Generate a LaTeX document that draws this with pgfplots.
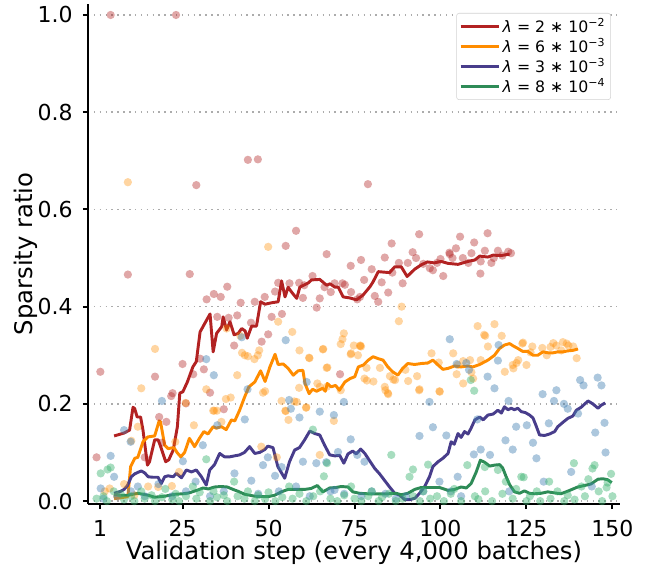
\documentclass[border=0pt]{standalone}
\usepackage{fontspec}
\setmainfont{DejaVu Sans}
\usepackage{pgfplots}
\pgfplotsset{compat=1.18}

\definecolor{cRed}{RGB}{178,34,34}
\definecolor{cOrange}{RGB}{255,140,0}
\definecolor{cPurple}{RGB}{72,61,139}
\definecolor{cGreen}{RGB}{46,139,87}
\definecolor{dBlue}{RGB}{70,130,180}
\definecolor{dGreen}{RGB}{60,179,113}

\newcommand{\lab}[2]{\textit{λ} = #1 ∗ 10\textsuperscript{−#2}}

\begin{document}
\begin{tikzpicture}
\begin{axis}[
  scale only axis,
  width=399pt, height=375pt,
  xmin=-2.49, xmax=152.2,
  ymin=-0.006, ymax=1.0226,
  axis x line*=bottom, axis y line*=left,
  axis line style={line width=1.9pt},
  xtick={1,25,50,75,100,125,150},
  ytick={0,0.2,0.4,0.6,0.8,1.0},
  tick align=outside,
  major tick length=3.75pt,
  tick style={black, line width=1.5pt},
  ymajorgrids,
  major grid style={gray!65, line width=1.1pt, dash pattern=on 1.1pt off 3.3pt},
  /pgf/number format/assume math mode=true,
  yticklabel style={/pgf/number format/fixed, /pgf/number format/fixed zerofill,
    /pgf/number format/precision=1},
  scaled y ticks=false,
  tick label style={font=\fontsize{16.5}{20}\selectfont},
  xticklabel style={anchor=base, inner sep=0pt, yshift=-20.25pt},
  yticklabel style={anchor=east, inner sep=0pt, xshift=-7.5pt},
  label style={font=\fontsize{18.2}{22}\selectfont},
  xlabel={Validation step (every 4,000 batches)},
  ylabel={Sparsity ratio},
  xlabel style={at={(axis description cs:0.5,-0.11)}, anchor=base},
  ylabel style={at={(axis description cs:-0.1034,0.5)}, anchor=base},
  legend style={at={(0.983,0.982)}, anchor=north east, draw=gray!35,
    rounded corners=2pt, font=\fontsize{11.8}{14}\selectfont,
    inner sep=2pt, row sep=-1pt},
  legend cell align=left,
  legend image code/.code={\draw[#1, line width=2.2pt] (0cm,0cm) -- (1.0cm,0cm);},
  every axis plot/.append style={line join=round},
  dot/.style 2 args={forget plot, only marks, mark=*, mark size=3.1pt,
    mark options={fill=#1, draw opacity=0, fill opacity=#2}},
]
% ---- raw values (dots) ----
\addplot[dot={cRed}{0.4}] coordinates {
(0,0.09)(1.1,0.266)(4.1,1.0)(23.1,1.0)(9.1,0.466)(27.1,0.467)(29,0.65)(44,0.702)(46.9,0.703)
(78.9,0.652)(58,0.556)(55,0.525)(66.9,0.508)(73.9,0.484)(76.9,0.496)(93.8,0.549)(105.7,0.544)
(113.7,0.551)(85.8,0.53)(109.8,0.532)(91.9,0.512)(83.8,0.501)(87.9,0.49)(80,0.477)(102.7,0.508)
(112.9,0.515)(116.7,0.515)(119.7,0.513)(100.8,0.463)(111.6,0.468)(77.8,0.455)(82.9,0.45)
(89,0.448)(84.8,0.429)(80.9,0.422)(81.9,0.41)(76.6,0.42)(96.9,0.479)(114.8,0.49)(111.7,0.493)
(108.1,0.49)(97.8,0.475)(92.9,0.5)(32,0.415)(34.1,0.426)(36.1,0.42)(38,0.441)(41.9,0.408)
(46,0.41)(48.9,0.42)(51.9,0.431)(52.8,0.449)(58.9,0.449)(62.8,0.463)(64.9,0.417)(66.3,0.44)
(64,0.398)(68.1,0.43)(69.2,0.448)(71.5,0.448)(72.2,0.445)(75.8,0.415)(60,0.418)(60.4,0.444)
(56.1,0.448)(35.1,0.379)(38.4,0.377)(40.9,0.382)(44.9,0.367)(50.9,0.379)(53.9,0.385)
(49.9,0.343)(48,0.328)(40,0.32)(70.8,0.261)(25,0.282)(28.1,0.261)(30.1,0.293)(31.2,0.271)
(33,0.223)(22.1,0.222)(21.7,0.216)(18.2,0.173)(17,0.256)(26,0.201)(37,0.189)(20.3,0.163)
(14,0.09)(19,0.12)(102.6,0.511)(103.5,0.5)(99,0.49)(95,0.488)(104.5,0.52)(106.5,0.5)
(118,0.505)(120.5,0.51)(115.5,0.5)(109,0.51)(100,0.498)(90.5,0.49)(86,0.47)(74,0.43)
};
\addplot[dot={cOrange}{0.37}] coordinates {
(9.1,0.656)(49.9,0.523)(17,0.313)(13,0.232)(10.1,0.124)(12,0.153)(3.8,0.026)(2.4,0.02)
(17.9,0.029)(21.9,0.031)(22.9,0.122)(25.9,0.202)(28.3,0.156)(31.9,0.23)(34.2,0.186)(35,0.186)
(36.3,0.163)(39,0.213)(37.6,0.21)(33.9,0.186)(40.9,0.259)(42.3,0.305)(43.1,0.3)(44,0.298)
(45.9,0.292)(46.9,0.3)(47.3,0.31)(48.4,0.223)(49,0.226)(47.9,0.112)(37.8,0.355)(41.8,0.34)
(52.8,0.369)(56.9,0.348)(61.8,0.295)(65.9,0.313)(66.9,0.274)(71.9,0.345)(71.5,0.333)
(74.8,0.32)(76.7,0.32)(73.9,0.302)(58.9,0.233)(64.9,0.235)(66.9,0.235)(71,0.228)(53.8,0.206)
(55,0.185)(58.2,0.204)(60.9,0.192)(59,0.31)(74,0.304)(71,0.323)(76.9,0.318)(65.8,0.312)
(61.9,0.294)(76,0.3)(67.1,0.275)(64.2,0.242)(77.9,0.252)(83.8,0.235)(84.7,0.222)(86.3,0.25)
(93.9,0.23)(99.7,0.226)(57.5,0.205)(61,0.193)(54.9,0.186)(55.8,0.167)(69,0.165)(64.9,0.095)
(52.4,0.09)(88.7,0.4)(87.9,0.37)(110.8,0.36)(115.7,0.364)(112.7,0.342)(117.8,0.34)(76.6,0.319)
(97.4,0.304)(123.8,0.324)(126.7,0.318)(132,0.317)(132.8,0.325)(136.7,0.324)(138.6,0.318)
(139.6,0.294)(135.1,0.31)(126.2,0.306)(125,0.28)(122.1,0.284)(121.2,0.273)(118.7,0.266)
(99.5,0.285)(103.7,0.304)(104.7,0.261)(99.8,0.225)(93.8,0.228)(90.6,0.247)(93.2,0.257)
(86.8,0.249)(84.8,0.22)(84,0.228)(80.5,0.246)(78.6,0.248)(78.5,0.274)(82.4,0.274)(85.3,0.257)
(89.8,0.27)(106.6,0.242)(109.5,0.252)(113,0.34)(113.8,0.318)(111.7,0.29)(108.6,0.29)
(106.6,0.288)(105,0.28)(109,0.265)(121,0.28)(122.6,0.29)(124,0.326)(129.6,0.315)(133.7,0.32)
(135.6,0.327)(137.2,0.32)(130.9,0.3)(6,0.01)(8,0.035)(15,0.03)(24,0.06)(11,0.012)
};
\addplot[dot={dBlue}{0.45}] coordinates {
(1.2,0.026)(4.1,0.093)(5.1,0.05)(8,0.146)(9.9,0.122)(12,0.03)(19,0.206)(25.1,0.082)(28.8,0.04)
(30.9,0.115)(31.9,0.292)(34.1,0.259)(35.1,0.156)(40.1,0.057)(42.2,0.337)(43.1,0.168)(43.9,0.23)
(45,0.042)(48.4,0.074)(51.9,0.052)(53.8,0.07)(49.8,0.09)(55,0.331)(56,0.208)(56.5,0.19)
(59,0.172)(60,0.081)(61.1,0.245)(63.9,0.078)(64.9,0.184)(66.8,0.08)(69,0.177)(70.2,0.101)
(71.9,0.204)(73.9,0.127)(75.8,0.095)(77.9,0.081)(93.9,0.134)(96.8,0.204)(97.8,0.152)
(101.7,0.135)(102.7,0.333)(104.7,0.282)(107.5,0.284)(108.3,0.27)(105,0.05)(109.7,0.096)
(110.7,0.168)(111.7,0.106)(113.7,0.256)(114.4,0.095)(115.7,0.232)(116.7,0.289)(116.9,0.321)
(118.9,0.125)(119.8,0.206)(121,0.106)(122,0.153)(125.1,0.156)(126.9,0.12)(127.9,0.088)
(129.7,0.22)(131.5,0.16)(133,0.206)(133.7,0.228)(135.9,0.2)(137,0.19)(140,0.18)(140.6,0.249)
(141.6,0.238)(145,0.141)(145.7,0.254)(146.8,0.238)(147.7,0.161)(148,0.1)(69.2,0.023)
(99.7,0.04)(2,0.005)(6,0.01)(10,0.02)(14,0.01)(18,0.035)(22,0.01)(26,0.02)(33,0.01)(37,0.02)
(47,0.015)(53,0.02)(58,0.03)(62,0.01)(68,0.02)(72,0.015)(77,0.01)(80,0.02)(84,0.015)(87,0.005)
(90,0.01)(95,0.02)(103,0.02)(106,0.01)(120,0.02)(130,0.04)(138,0.06)(144,0.03)
};
\addplot[dot={dGreen}{0.45}] coordinates {
(1.2,0.057)(4.1,0.069)(3.2,0.065)(31.9,0.086)(62.9,0.147)(85.7,0.095)(67,0.078)(66.1,0.051)
(91,0.05)(92,0.065)(96.4,0.075)(108.8,0.249)(109.8,0.227)(107.8,0.074)(112.9,0.07)(116.7,0.064)
(124.2,0.049)(123.5,0.05)(131.6,0.04)(138.8,0.078)(144.2,0.067)(144.8,0.074)(149.6,0.056)
(148.6,0.038)(148.3,0.028)
(0,0.005)(2,0.01)(3,0.0)(5,0.02)(7,0.015)(8,0.003)(10,0.01)(11,0.0)(13,0.02)(14,0.005)(16,0.012)
(17,0.0)(19,0.008)(20,0.025)(22,0.003)(23,0.015)(24,0.0)(26,0.01)(28,0.03)(29,0.005)(30,0.018)
(33,0.0)(34,0.02)(35,0.008)(37,0.012)(38,0.0)(40,0.04)(41,0.01)(43,0.005)(44,0.02)(46,0.0)
(47,0.012)(49,0.004)(50,0.018)(52,0.0)(54,0.008)(56,0.03)(57,0.005)(59,0.015)(61,0.0)(63,0.01)
(65,0.02)(68,0.005)(70,0.0)(72,0.012)(74,0.03)(75,0.005)(77,0.0)(79,0.01)(80,0.02)(82,0.0)
(83,0.008)(85,0.015)(87,0.0)(89,0.005)(92,0.01)(94,0.0)(95,0.02)(97,0.005)(99,0.01)(101,0.0)
(103,0.015)(104,0.025)(106,0.0)(110,0.01)(111,0.004)(113,0.02)(115,0.0)(118,0.015)(119,0.04)
(121,0.005)(122,0.025)(125,0.0)(126,0.01)(128,0.02)(129,0.0)(132,0.005)(134,0.02)(136,0.0)
(137,0.012)(139,0.003)(141,0.03)(142,0.01)(143,0.045)(146,0.02)(147,0.0)(150,0.01)
};
% ---- smoothed curves ----
\addplot[cRed, line width=2.2pt] coordinates {
(5.1,0.134)(8,0.140)(9.6,0.146)(10.6,0.193)(11.1,0.190)(11.8,0.173)(12.8,0.173)(13.5,0.146)
(14.8,0.074)(15.4,0.081)(16.9,0.126)(17.9,0.126)(18.5,0.115)(20.1,0.081)(21,0.085)(22.3,0.105)
(23.5,0.153)(24.2,0.222)(25.1,0.225)(26.4,0.245)(28,0.276)(29,0.287)(30.1,0.348)(31.5,0.366)
(33,0.385)(33.9,0.307)(34.9,0.345)(36.4,0.359)(36.8,0.379)(37.8,0.352)(38.8,0.369)(40,0.342)
(41.2,0.345)(42.2,0.355)(43.2,0.350)(43.8,0.335)(45.1,0.360)(46.5,0.360)(47.7,0.410)(49,0.405)
(50.9,0.408)(52.8,0.410)(53.8,0.453)(54.8,0.420)(55.7,0.440)(56.7,0.430)(58.2,0.417)(59.1,0.440)
(61.6,0.449)(62.5,0.455)(64.9,0.456)(66.9,0.444)(67.9,0.447)(69.3,0.440)(70.3,0.440)(71.7,0.420)
(73.6,0.418)(75.6,0.414)(77.5,0.424)(79.5,0.441)(80.4,0.451)(81.9,0.472)(85.2,0.470)(86.7,0.482)
(88.6,0.482)(90.3,0.462)(92.5,0.477)(94.4,0.486)(96.2,0.492)(98.2,0.490)(100.2,0.493)
(102.2,0.489)(105.1,0.487)(108,0.493)(110,0.496)(111.4,0.504)(113.8,0.502)(115.3,0.506)
(117.5,0.505)(120.1,0.508)
};
\addlegendentry{\lab{2}{2}}
\addplot[cOrange, line width=2.2pt] coordinates {
(5.1,0.005)(9.1,0.009)(9.9,0.071)(11.1,0.088)(12,0.090)(13.5,0.122)(14.9,0.132)(16.9,0.134)
(18.2,0.165)(18.6,0.163)(19.8,0.115)(20.8,0.108)(22.5,0.110)(23.4,0.100)(24.5,0.091)(25.6,0.100)
(27,0.129)(28.5,0.112)(29.9,0.129)(31.2,0.143)(32.4,0.138)(33.9,0.153)(34.8,0.150)(36.3,0.153)
(37.7,0.147)(39.2,0.167)(40.2,0.165)(41.6,0.187)(43.1,0.215)(44.3,0.235)(46,0.245)(47.7,0.268)
(49,0.246)(50.4,0.276)(51.9,0.302)(52.8,0.281)(54.3,0.282)(55.7,0.273)(57.2,0.259)(58.6,0.268)
(60,0.269)(60.6,0.242)(61.8,0.221)(62.8,0.230)(64,0.226)(65.7,0.232)(66.5,0.226)(67.1,0.242)
(68.2,0.235)(69.5,0.238)(70.6,0.228)(72.2,0.245)(73.7,0.252)(75.1,0.256)(76.1,0.276)(77.6,0.280)
(79,0.290)(80.4,0.297)(81.9,0.293)(83.3,0.290)(84.7,0.276)(86.1,0.266)(87.6,0.259)(89,0.273)
(90.5,0.283)(92.5,0.281)(94.4,0.283)(96.3,0.284)(97.8,0.290)(99.3,0.280)(100.7,0.271)
(102.2,0.273)(104.1,0.278)(106,0.276)(108,0.278)(109.4,0.276)(111.4,0.281)(113.8,0.290)
(115.7,0.300)(117.2,0.314)(118.6,0.321)(120.1,0.324)(121.2,0.319)(122.5,0.314)(123.9,0.308)
(125.4,0.308)(126.9,0.300)(128.3,0.300)(129.8,0.307)(131.3,0.305)(132.7,0.305)(134.1,0.307)
(135.6,0.307)(137,0.309)(138.5,0.310)(140,0.313)
};
\addlegendentry{\lab{6}{3}}
\addplot[cPurple, line width=2.2pt] coordinates {
(5.1,0.016)(7,0.020)(8,0.024)(9,0.032)(10.1,0.050)(11.1,0.056)(12,0.059)(13,0.062)(14,0.058)
(15,0.050)(16.4,0.049)(17.9,0.049)(18.8,0.036)(19.8,0.050)(20.8,0.052)(22.3,0.050)(23.2,0.057)
(24.7,0.048)(26.1,0.064)(27.6,0.060)(29,0.064)(30.5,0.050)(31.9,0.033)(32.9,0.064)(34.3,0.075)
(35.8,0.098)(37.2,0.091)(38.7,0.091)(40.1,0.093)(41.6,0.095)(43,0.100)(44.5,0.112)(46,0.098)
(47.4,0.100)(48.9,0.106)(49.8,0.113)(51.3,0.110)(52.7,0.071)(54.7,0.047)(56.1,0.081)(57.6,0.105)
(59,0.110)(60.5,0.126)(62,0.144)(63.4,0.139)(64.9,0.136)(66.3,0.115)(67.8,0.095)(69.3,0.093)
(70.7,0.094)(71.9,0.078)(73.1,0.097)(74.5,0.103)(75.5,0.097)(76.8,0.107)(78,0.098)(79.4,0.083)
(80.9,0.067)(82.3,0.056)(83.8,0.042)(85.2,0.029)(86.7,0.016)(88.2,0.012)(89.6,0.003)(91.1,0.003)
(92.6,0.006)(93.9,0.016)(95.4,0.030)(96.8,0.050)(97.8,0.071)(99.3,0.081)(100.7,0.088)
(102.2,0.098)(103.1,0.122)(104,0.117)(105.1,0.139)(106,0.131)(107,0.143)(108,0.138)(108.9,0.150)
(110,0.167)(111.4,0.173)(112.4,0.167)(113.8,0.177)(115.3,0.179)(116.7,0.187)(117.7,0.181)
(118.6,0.194)(119.6,0.188)(120.6,0.191)(121.5,0.188)(122.5,0.191)(123.5,0.184)(124.7,0.182)
(125.9,0.177)(126.9,0.171)(127.8,0.155)(128.8,0.136)(130.3,0.135)(131.7,0.138)(133.2,0.143)
(134.1,0.153)(135.6,0.162)(137,0.170)(138.5,0.175)(139.5,0.187)(140.9,0.193)(142.9,0.206)
(144.3,0.200)(145.8,0.191)(146.7,0.197)(147.9,0.202)
};
\addlegendentry{\lab{3}{3}}
\addplot[cGreen, line width=2.2pt] coordinates {
(5.1,0.012)(9.1,0.012)(12,0.016)(15,0.012)(16.9,0.008)(19.8,0.010)(22.7,0.014)(25.1,0.015)
(27,0.017)(29.5,0.023)(31,0.027)(32.5,0.025)(34.3,0.029)(36.2,0.030)(38,0.029)(39.7,0.024)
(41.2,0.020)(43.1,0.014)(46,0.010)(49.8,0.009)(51.8,0.012)(53.7,0.019)(55.7,0.024)(57.6,0.024)
(60.5,0.024)(62.4,0.026)(64.2,0.032)(65.8,0.019)(67.8,0.027)(69.7,0.028)(71.1,0.030)(73.1,0.029)
(74.5,0.019)(76.5,0.016)(78.9,0.015)(81.8,0.015)(84.7,0.015)(87.1,0.016)(88.6,0.013)(90.5,0.016)
(92.5,0.024)(94.4,0.028)(96.3,0.028)(98.3,0.028)(99.7,0.028)(102.2,0.022)(104.1,0.024)
(106,0.029)(107.5,0.027)(108.9,0.036)(110.4,0.060)(111.6,0.084)(112.8,0.080)(114.3,0.072)
(115.7,0.074)(117.2,0.075)(118.1,0.068)(119.1,0.050)(120.1,0.034)(121.5,0.019)(123,0.016)
(124.4,0.021)(125.9,0.016)(127.3,0.015)(129.2,0.016)(131.2,0.019)(133,0.017)(135,0.015)
(136.5,0.019)(137.9,0.023)(139.9,0.029)(141.8,0.032)(143.7,0.035)(145.8,0.045)(147.2,0.046)
(148.6,0.044)(149.8,0.038)
};
\addlegendentry{\lab{8}{4}}
\coordinate (O) at (rel axis cs:0,0);
\end{axis}
\path[use as bounding box] ([shift={(-66pt,-50.25pt)}]O) rectangle ++(492pt,428.25pt);
\end{tikzpicture}
\end{document}
